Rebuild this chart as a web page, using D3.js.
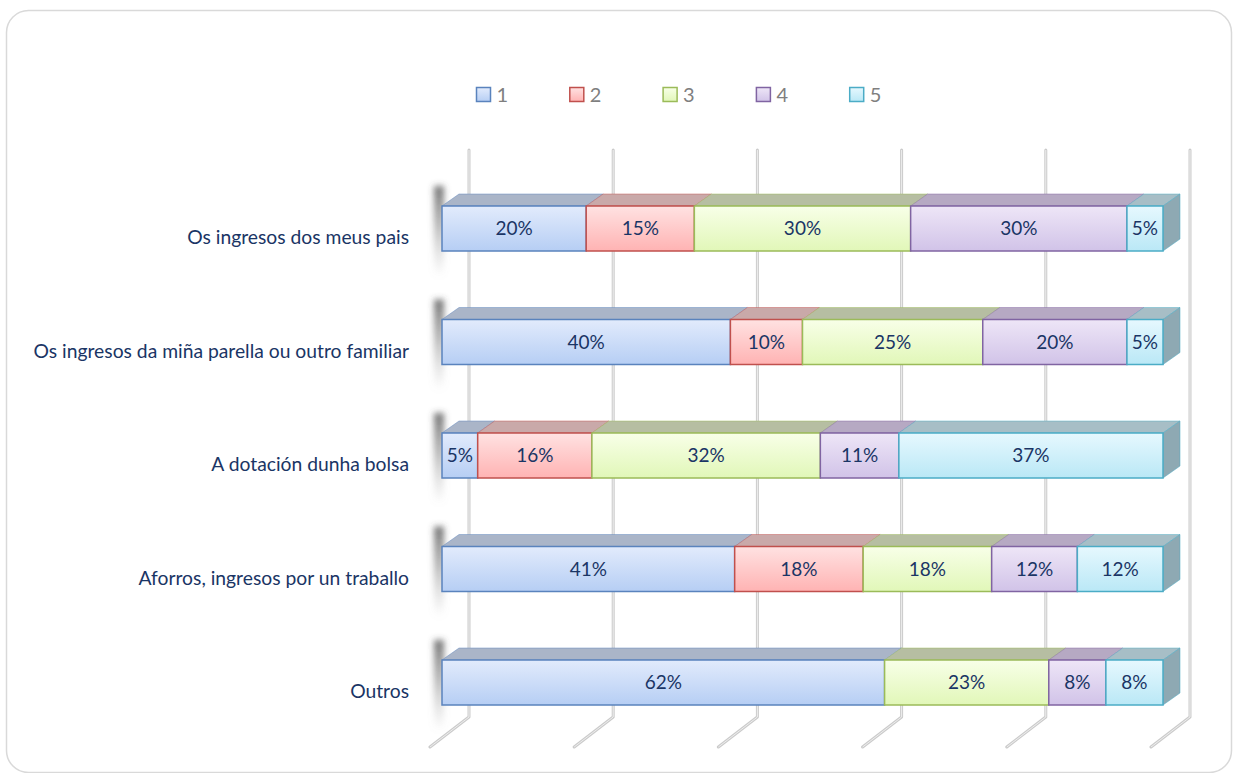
<html>
  <head>
    <meta charset="utf-8">
    <style>
body {
  margin: 0;
  background: white;
}
text {
  font-family: Lato, 'Open Sans', sans-serif;
}
    </style>
    <script src="https://d3js.org/d3.v7.min.js"></script>
  </head>
  <body>
    <div id="viz"></div>
    <script>

// data
var categories = ['Os ingresos dos meus pais',
                  'Os ingresos da miña parella ou outro familiar',
                  'A dotación dunha bolsa',
                  'Aforros, ingresos por un traballo',
                  'Outros'];
var seriesNames = ['1', '2', '3', '4', '5'];
var s1 = [20, 40, 5, 41, 62];
var s2 = [15, 10, 16, 18, 0];
var s3 = [30, 25, 32, 18, 23];
var s4 = [30, 20, 11, 12, 8];
var s5 = [5, 5, 37, 12, 8];
var xTicks = [0, 0.2, 0.4, 0.6, 0.8, 1];

// styles per series
var faceTop = ['#e2ebfc', '#ffe2e2', '#f8ffe8', '#eee6f7', '#e6f8fe'];
var faceBot = ['#b6cef4', '#ffb3b3', '#e1f7b8', '#d1c3e8', '#bae8f6'];
var edge    = ['#5a83bd', '#c0504d', '#9bbb59', '#8064a2', '#4bacc6'];
var topFace = ['#aab5c8', '#c9a9a9', '#b6bea2', '#b6a9c3', '#a7bec6'];

var width = 1235, height = 773;
var dx = 17, dy = 12;       // bar depth
var barH = 45;

var svg = d3.select('#viz').append('svg')
    .attr('width', width)
    .attr('height', height);

var defs = svg.append('defs');
seriesNames.forEach(function(s, i) {
  var g = defs.append('linearGradient')
      .attr('id', 'grad' + i)
      .attr('x1', 0).attr('y1', 0).attr('x2', 0).attr('y2', 1);
  g.append('stop').attr('offset', '0%').attr('stop-color', faceTop[i]);
  g.append('stop').attr('offset', '100%').attr('stop-color', faceBot[i]);
});
var sg = defs.append('linearGradient')
    .attr('id', 'shadowGrad')
    .attr('x1', 0).attr('y1', 0).attr('x2', 0).attr('y2', 1);
sg.append('stop').attr('offset', '0%').attr('stop-color', '#444').attr('stop-opacity', 0.75);
sg.append('stop').attr('offset', '40%').attr('stop-color', '#666').attr('stop-opacity', 0.5);
sg.append('stop').attr('offset', '100%').attr('stop-color', '#999').attr('stop-opacity', 0);
defs.append('filter').attr('id', 'blur')
    .attr('x', '-150%').attr('width', '400%')
  .append('feGaussianBlur').attr('stdDeviation', 3);

// outer frame
svg.append('rect')
    .attr('x', 6.5).attr('y', 10.5)
    .attr('width', 1225).attr('height', 762)
    .attr('rx', 22)
    .attr('fill', 'white')
    .attr('stroke', '#d9d9d9')
    .attr('stroke-width', 1.5);

var x = d3.scaleLinear().domain([0, 1]).range([442, 1163]);
var y = d3.scalePoint().domain(categories).range([228.5, 682.5]);

// gridlines on back wall + floor
var wallDx = 27, gridTop = 150, gridBot = 717, floorDx = -39, floorDy = 30;
var gridPath = function(t) {
  var gx = x(t) + wallDx;
  return 'M' + gx + ',' + gridTop + 'L' + gx + ',' + gridBot +
         'L' + (gx + floorDx) + ',' + (gridBot + floorDy);
};
var grid = svg.append('g');
grid.selectAll('path.outer').data(xTicks).enter().append('path')
    .attr('class', 'outer')
    .attr('d', gridPath)
    .attr('fill', 'none')
    .attr('stroke', '#cbcbcb')
    .attr('stroke-width', 3)
    .attr('stroke-linecap', 'round')
    .attr('stroke-linejoin', 'round');
grid.selectAll('path.inner').data(xTicks).enter().append('path')
    .attr('class', 'inner')
    .attr('d', gridPath)
    .attr('fill', 'none')
    .attr('stroke', '#eeeeee')
    .attr('stroke-width', 1);

// stack rows to 100%
var series = [s1, s2, s3, s4, s5];
var rows = categories.map(function(c, r) {
  var vals = series.map(function(s) { return s[r]; });
  var total = d3.sum(vals), acc = 0;
  return vals.map(function(v, i) {
    var seg = {cat: c, i: i, v: v, x0: acc / total, x1: (acc + v) / total};
    acc += v;
    return seg;
  }).filter(function(d) { return d.v > 0; });
});

var bars = svg.append('g');
rows.forEach(function(segs) {
  var cat = segs[0].cat;
  var yt = y(cat) - barH / 2, yb = y(cat) + barH / 2;
  var g = bars.append('g');

  // soft shadow on the left
  g.append('rect')
      .attr('x', x(0) - 8).attr('y', yt - dy - 8)
      .attr('width', 10).attr('height', barH + dy + 34)
      .attr('fill', 'url(#shadowGrad)')
      .attr('filter', 'url(#blur)');

  // top faces
  g.selectAll('path.top').data(segs).enter().append('path')
      .attr('class', 'top')
      .attr('d', function(d) {
        var a = x(d.x0), b = x(d.x1);
        return 'M' + a + ',' + yt + 'L' + b + ',' + yt + 'L' + (b + dx) + ',' + (yt - dy) +
               'L' + (a + dx) + ',' + (yt - dy) + 'Z';
      })
      .attr('fill', function(d) { return topFace[d.i]; })
      .attr('stroke', function(d) { return edge[d.i]; })
      .attr('stroke-opacity', 0.45)
      .attr('stroke-width', 1);

  // right end cap
  var last = segs[segs.length - 1];
  var e = x(last.x1);
  g.append('path')
      .attr('d', 'M' + e + ',' + yt + 'L' + (e + dx) + ',' + (yt - dy) + 'L' + (e + dx) + ',' + (yb - dy) +
                 'L' + e + ',' + yb + 'Z')
      .attr('fill', '#8ea9b3')
      .attr('stroke', edge[last.i])
      .attr('stroke-opacity', 0.5)
      .attr('stroke-width', 1);

  // front faces
  g.selectAll('rect.front').data(segs).enter().append('rect')
      .attr('class', 'front')
      .attr('x', function(d) { return x(d.x0); })
      .attr('y', yt)
      .attr('width', function(d) { return x(d.x1) - x(d.x0); })
      .attr('height', barH)
      .attr('fill', function(d) { return 'url(#grad' + d.i + ')'; })
      .attr('stroke', function(d) { return edge[d.i]; })
      .attr('stroke-width', 1.5);

  g.selectAll('text').data(segs).enter().append('text')
      .attr('x', function(d) { return (x(d.x0) + x(d.x1)) / 2; })
      .attr('y', y(cat))
      .attr('dy', '0.36em')
      .attr('text-anchor', 'middle')
      .attr('font-size', '19px')
      .attr('fill', '#1a3565')
      .text(function(d) { return d.v + '%'; });
});

// category labels
svg.append('g').selectAll('text')
    .data(categories).enter().append('text')
    .attr('x', 409)
    .attr('y', function(d) { return y(d) + 9; })
    .attr('dy', '0.36em')
    .attr('text-anchor', 'end')
    .attr('font-size', '19.3px')
    .attr('fill', '#1a3565')
    .text(function(d) { return d; });

// legend
var legend = svg.append('g').selectAll('g')
    .data(seriesNames).enter().append('g')
    .attr('transform', function(d, i) { return 'translate(' + (476.5 + 93.3 * i) + ',87.5)'; });
legend.append('rect')
    .attr('width', 14).attr('height', 14)
    .attr('fill', function(d, i) { return 'url(#grad' + i + ')'; })
    .attr('stroke', function(d, i) { return edge[i]; })
    .attr('stroke-width', 1.5);
legend.append('text')
    .attr('x', 20).attr('y', 14.5)
    .attr('font-size', '20px')
    .attr('fill', '#7f7f7f')
    .text(function(d) { return d; });

    </script>
  </body>
</html>
